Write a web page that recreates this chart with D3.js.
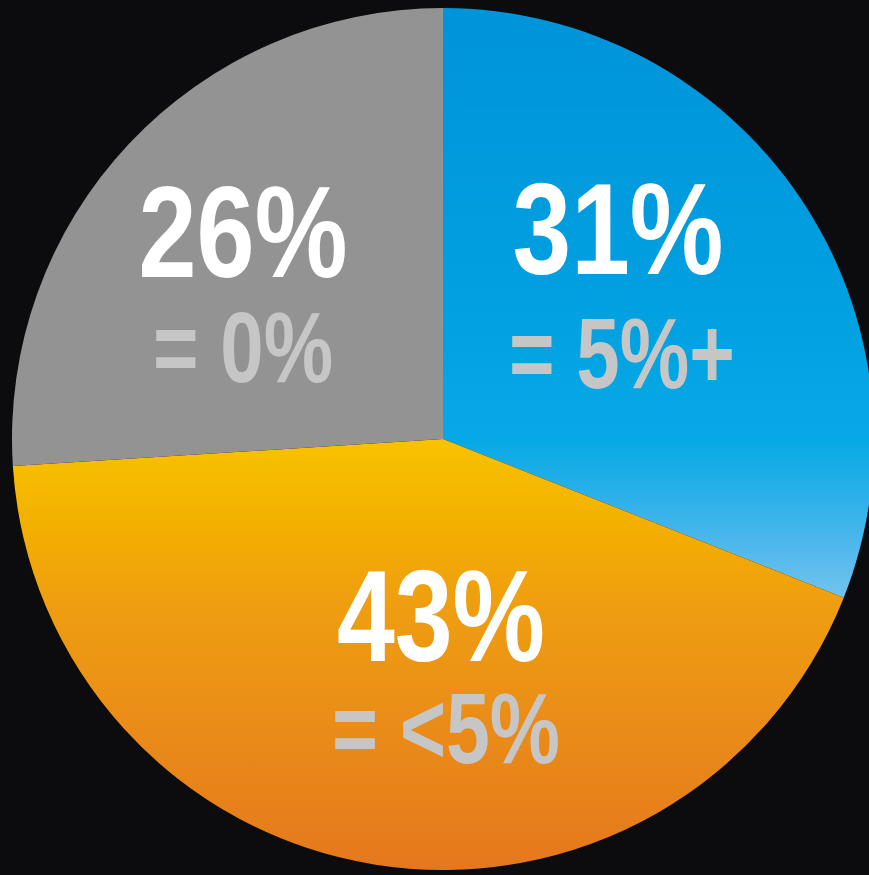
<!DOCTYPE html>
<html>
<head>
<meta charset="utf-8">
<script src="https://cdn.jsdelivr.net/npm/d3@7"></script>
<style>
  html, body { margin: 0; padding: 0; background: #0c0c0e; }
  svg { display: block; }
</style>
</head>
<body>
<script>
// Share of respondents per group (percent)
const categories = ["5%+", "<5%", "0%"];
const shares = [31, 43, 26];
const bigLabels = ["31%", "43%", "26%"];
const subLabels = ["= 5%+", "= <5%", "= 0%"];

const W = 869, H = 875;
const cx = 443, cy = 439, R = 431;

const svg = d3.select("body").append("svg")
  .attr("width", W).attr("height", H);

svg.append("rect").attr("width", W).attr("height", H).attr("fill", "#0c0c0e");

const defs = svg.append("defs");

// vertical gradients; stop positions given in page y, mapped into the pie's local space
function gradient(id, stops) {
  const g = defs.append("linearGradient")
    .attr("id", id)
    .attr("gradientUnits", "userSpaceOnUse")
    .attr("x1", 0).attr("x2", 0)
    .attr("y1", -cy).attr("y2", H - cy);
  stops.forEach(([y, c]) => g.append("stop").attr("offset", y / H).attr("stop-color", c));
}
gradient("gBlue", [[9, "#0094da"], [300, "#01a0e0"], [440, "#06a9e5"], [520, "#3db3eb"], [600, "#74c3ef"]]);
gradient("gOrange", [[434, "#f8c400"], [530, "#f3ae00"], [600, "#ef9f10"], [720, "#ea8d18"], [873, "#e5771d"]]);
gradient("gGray", [[0, "#939393"], [H, "#939393"]]);

const fills = ["url(#gBlue)", "url(#gOrange)", "url(#gGray)"];

const pie = d3.pie().sort(null).value(d => d);
const arc = d3.arc().innerRadius(0).outerRadius(R);

const gPie = svg.append("g").attr("transform", `translate(${cx},${cy})`);
gPie.selectAll("path")
  .data(pie(shares))
  .join("path")
  .attr("d", d => arc(d))
  .attr("fill", (d, i) => fills[i]);

// label anchors (page coordinates): centre x, baselines of both lines, line widths
const labelLayout = [
  { x: 618, y1: 274, y2: 388, w1: 211, w2: 226, dx2: 4 },
  { x: 441, y1: 661, y2: 763, w1: 208, w2: 228, dx2: 5 },
  { x: 243, y1: 277, y2: 382, w1: 209, w2: 180, dx2: 0 }
];

const font = "'Liberation Sans', Arial, sans-serif";

const labels = svg.append("g");
shares.forEach((v, i) => {
  const L = labelLayout[i];
  labels.append("text")
    .attr("x", L.x).attr("y", L.y1)
    .attr("text-anchor", "middle")
    .attr("font-family", font)
    .attr("font-weight", "bold")
    .attr("font-size", 130)
    .attr("fill", "#ffffff")
    .attr("textLength", L.w1)
    .attr("lengthAdjust", "spacingAndGlyphs")
    .text(bigLabels[i]);
  labels.append("text")
    .attr("x", L.x + L.dx2).attr("y", L.y2)
    .attr("text-anchor", "middle")
    .attr("font-family", font)
    .attr("font-weight", "bold")
    .attr("font-size", 100)
    .attr("fill", "#c6c6c6")
    .attr("textLength", L.w2)
    .attr("lengthAdjust", "spacingAndGlyphs")
    .text(subLabels[i]);
});
</script>
</body>
</html>
